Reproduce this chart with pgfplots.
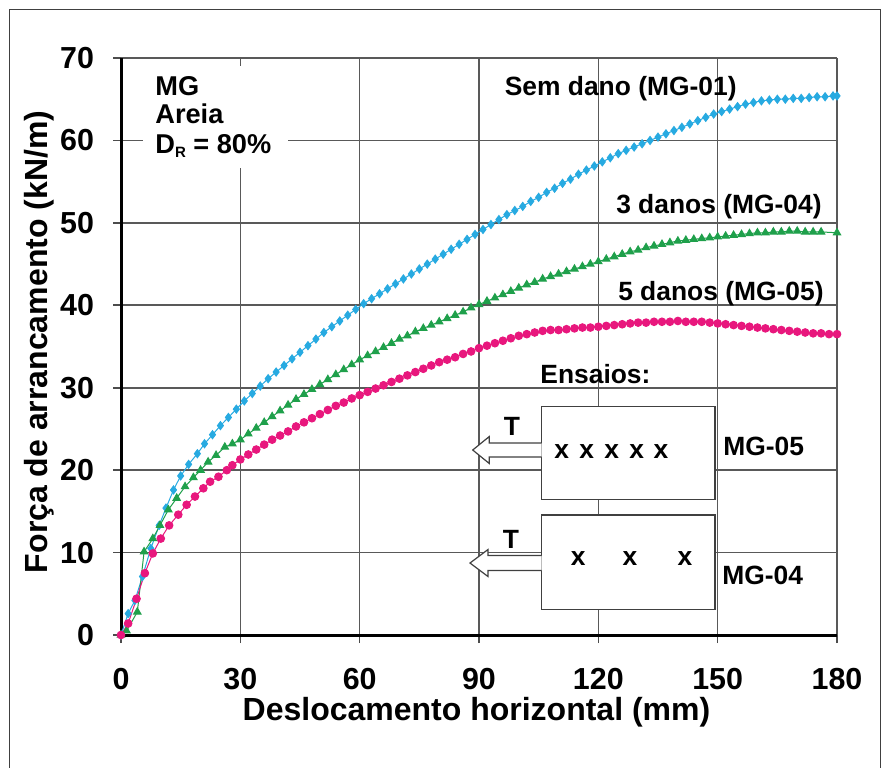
\documentclass[border=0pt]{standalone}
\usepackage{fontspec}
\setmainfont{Liberation Sans}
\usepackage{pgfplots}
\pgfplotsset{compat=1.18}
\definecolor{SemDano}{HTML}{27AAE1}
\definecolor{TresDanos}{HTML}{1FA04B}
\definecolor{CincoDanos}{HTML}{E8177D}
\newcommand{\lbl}{\fontsize{13.2}{15}\selectfont\bfseries}

\begin{document}
\begin{tikzpicture}
\begin{axis}[
  at={(60.5pt,-317.5pt)}, anchor=south west,
  scale only axis, width=358pt, height=288.5pt,
  xmin=0, xmax=180, ymin=0, ymax=70,
  xtick={0,30,...,180}, ytick={0,10,...,70},
  axis lines=left, axis line style={-, black, line width=1.5pt},
  grid=major, grid style={color=black!65, line width=0.8pt},
  tick align=outside, major tick length=4pt,
  tick style={black!70, line width=0.8pt},
  /pgf/number format/assume math mode=true,
  ticklabel style={font=\fontsize{15.2}{18}\selectfont\bfseries},
  xticklabel style={yshift=-9pt},
  yticklabel style={xshift=-6pt},
  xlabel={Deslocamento horizontal (mm)},
  ylabel={Força de arrancamento (kN/m)},
  label style={font=\fontsize{16}{19}\selectfont\bfseries},
  xlabel style={at={(axis description cs:0.4965,-0.1485)}, anchor=base},
  ylabel style={at={(axis description cs:-0.102,0.508)}, anchor=base},
  clip=false,
]
% Sem dano (MG-01)
\addplot[color=SemDano, line width=0.5pt, mark=diamond*, mark size=2pt] coordinates {
  (0,0) (1.8,2.6) (3.5,4.2) (5.4,7.1) (7.5,10.5) (9.6,13.3) (11.3,15.4) (13.2,17.6)
  (15,19.3) (17,20.7) (19.2,22.0) (21,23.2) (23,24.3) (25,25.4) (27,26.4) (29,27.4)
  (31,28.4) (33,29.3) (35,30.2) (37,31.1) (39,31.9) (41,32.7) (43,33.5) (45,34.3)
  (47,35.1) (49,35.9) (51,36.7) (53,37.4) (55,38.1) (57,38.8) (59,39.5) (61,40.2)
  (63,40.8) (65,41.4) (67,42.0) (69,42.6) (71,43.2) (73,43.8) (75,44.4) (77,45.0)
  (79,45.6) (81,46.2) (83,46.8) (85,47.4) (87,48.0) (89,48.6) (91,49.2) (93,49.8)
  (95,50.4) (97,51.0) (99,51.5) (101,52.0) (103,52.6) (105,53.1) (107,53.7) (109,54.2)
  (111,54.8) (113,55.3) (115,55.9) (117,56.4) (119,56.9) (121,57.4) (123,57.9) (125,58.4)
  (127,58.8) (129,59.2) (131,59.6) (133,60.0) (135,60.4) (137,60.8) (139,61.2) (141,61.6)
  (143,62.0) (145,62.4) (147,62.8) (149,63.2) (151,63.5) (153,63.8) (155,64.1) (157,64.4)
  (159,64.6) (161,64.8) (163,64.9) (165,65.0) (167,65.0) (169,65.1) (171,65.1) (173,65.2)
  (175,65.3) (177,65.3) (179,65.4) (180,65.4)};
% 3 danos (MG-04)
\addplot[color=TresDanos, line width=0.5pt, mark=triangle*, mark size=2.1pt] coordinates {
  (0,0) (1.4,0.5) (4.1,2.8) (5.8,10.1) (8,11.7) (9.8,13.3) (11.9,15.2) (14,16.6)
  (16.1,18.0) (18.2,19.1) (20,20.0) (21.9,21.0) (23.9,21.8) (26.1,22.8) (28,23.2) (30,23.7)
  (32,24.4) (34,25.1) (36,25.8) (38,26.5) (40,27.2) (42,27.9) (44,28.6) (46,29.2)
  (48,29.8) (50,30.4) (52,31.0) (54,31.6) (56,32.2) (58,32.8) (60,33.4) (62,33.9)
  (64,34.4) (66,34.9) (68,35.4) (70,35.9) (72,36.3) (74,36.8) (76,37.2) (78,37.6)
  (80,38.0) (82,38.4) (84,38.8) (86,39.2) (88,39.7) (90,40.1) (92,40.5) (94,40.9)
  (96,41.3) (98,41.7) (100,42.1) (102,42.5) (104,42.8) (106,43.2) (108,43.5) (110,43.8)
  (112,44.1) (114,44.4) (116,44.7) (118,45.0) (120,45.3) (122,45.6) (124,45.9) (126,46.2)
  (128,46.5) (130,46.7) (132,47.0) (134,47.2) (136,47.4) (138,47.6) (140,47.8) (142,47.9)
  (144,48.0) (146,48.1) (148,48.2) (150,48.3) (152,48.4) (154,48.5) (156,48.6) (158,48.7)
  (160,48.8) (162,48.8) (164,48.9) (166,48.9) (168,49.0) (170,49.0) (172,48.9) (174,48.9)
  (176,48.9) (180,48.8)};
% 5 danos (MG-05)
\addplot[color=CincoDanos, line width=0.5pt, mark=*, mark size=1.9pt] coordinates {
  (0,0) (1.8,1.4) (3.9,4.4) (6,7.5) (8,9.9) (10,11.7) (12.1,13.3) (14.4,14.6)
  (16.5,15.8) (18.6,16.8) (20.7,17.8) (22.4,18.6) (24.5,19.2) (26.6,20.0) (28,20.6) (30,21.3)
  (32,21.9) (34,22.5) (36,23.1) (38,23.7) (40,24.2) (42,24.7) (44,25.3) (46,25.8)
  (48,26.3) (50,26.8) (52,27.3) (54,27.8) (56,28.2) (58,28.7) (60,29.1) (62,29.5)
  (64,29.9) (66,30.3) (68,30.7) (70,31.1) (72,31.5) (74,31.9) (76,32.3) (78,32.7)
  (80,33.1) (82,33.4) (84,33.7) (86,34.1) (88,34.4) (90,34.8) (92,35.1) (94,35.4)
  (96,35.7) (98,36.0) (100,36.3) (102,36.5) (104,36.7) (106,36.9) (108,37.0) (110,37.0)
  (112,37.1) (114,37.2) (116,37.3) (118,37.3) (120,37.4) (122,37.5) (124,37.6) (126,37.7)
  (128,37.8) (130,37.9) (132,37.9) (134,38.0) (136,38.0) (138,38.0) (140,38.1) (142,38.0)
  (144,38.0) (146,38.0) (148,37.9) (150,37.8) (152,37.7) (154,37.6) (156,37.5) (158,37.4)
  (160,37.3) (162,37.2) (164,37.1) (166,37.0) (168,36.9) (170,36.8) (172,36.7) (174,36.6)
  (176,36.6) (178,36.5) (180,36.5)};
\end{axis}

% annotations, in pixel units of the reference (origin top left)
\begin{scope}[x=0.5pt, y=-0.5pt]
  \draw[black!75, line width=0.75pt] (9.5,800) -- (9.5,9.5) -- (880.5,9.5) -- (880.5,800);
  \fill[white] (143,66) rectangle (288,168);
  \node[anchor=base west, inner sep=0pt, font=\fontsize{13.6}{16}\selectfont\bfseries] at (155,95) {MG};
  \node[anchor=base west, inner sep=0pt, font=\fontsize{13.6}{16}\selectfont\bfseries] at (155,123) {Areia};
  \node[anchor=base west, inner sep=0pt, font=\fontsize{13.6}{16}\selectfont\bfseries] at (155,153)
    {D\raisebox{-0.3ex}{\fontsize{7.5}{8}\selectfont R} = 80\%};
  \node[anchor=base east, inner sep=0pt, font=\lbl] at (737,95) {Sem dano (MG-01)};
  \node[anchor=base east, inner sep=0pt, font=\lbl] at (822,213) {3 danos (MG-04)};
  \node[anchor=base east, inner sep=0pt, font=\lbl] at (824,300) {5 danos (MG-05)};
  \node[anchor=base west, inner sep=0pt, font=\lbl] at (540,383.3) {Ensaios:};
  % specimen boxes
  \draw[black!75, fill=white, line width=0.7pt] (541.7,406.7) rectangle (715,499.3);
  \draw[black!75, fill=white, line width=0.7pt] (541.7,515) rectangle (715,609.3);
  % pull arrows
  \draw[black!75, fill=white, line width=0.6pt] (541.7,443) -- (489.3,443) -- (489.3,436.5)
    -- (472.7,450) -- (489.3,463.5) -- (489.3,457) -- (541.7,457);
  \draw[black!75, fill=white, line width=0.6pt] (541.7,555.5) -- (488,555.5) -- (488,549.5)
    -- (470,563) -- (488,576.5) -- (488,570.5) -- (541.7,570.5);
  \node[anchor=base, inner sep=0pt, font=\lbl] at (512,435) {T};
  \node[anchor=base, inner sep=0pt, font=\lbl] at (511,548) {T};
  \foreach \px in {561.7,586.7,611.7,636.7,661}
    \node[inner sep=0pt, font=\lbl] at (\px,451.7) {x};
  \foreach \px in {578.3,630,685}
    \node[inner sep=0pt, font=\lbl] at (\px,559) {x};
  \node[anchor=base west, inner sep=0pt, font=\lbl] at (723,455) {MG-05};
  \node[anchor=base west, inner sep=0pt, font=\lbl] at (722,584) {MG-04};
\end{scope}
\pgfresetboundingbox
\path[use as bounding box] (0,0) rectangle (441pt,-383.5pt);
\end{tikzpicture}
\end{document}
